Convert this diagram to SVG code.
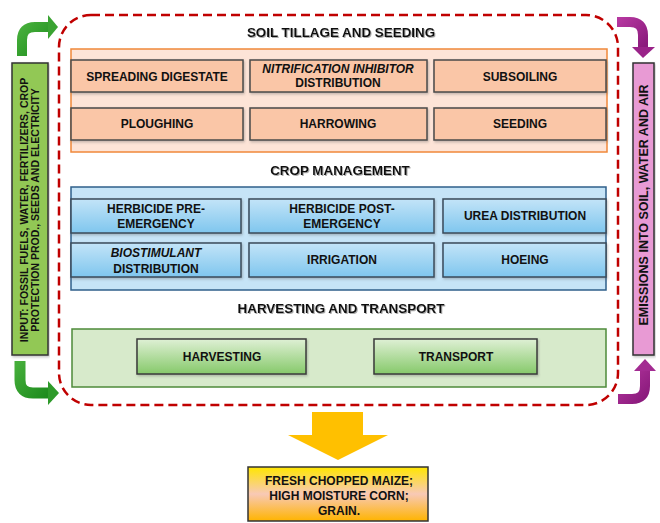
<svg xmlns="http://www.w3.org/2000/svg" width="660" height="523" viewBox="0 0 660 523">
<defs>
<linearGradient id="gBlue" x1="0" y1="0" x2="0" y2="1"><stop offset="0" stop-color="#C3E4F8"/><stop offset="1" stop-color="#7FC6EE"/></linearGradient>
<linearGradient id="gGreen" x1="0" y1="0" x2="0" y2="1"><stop offset="0" stop-color="#DFF0D5"/><stop offset="1" stop-color="#86C96A"/></linearGradient>
<linearGradient id="gOut" x1="0" y1="0" x2="0" y2="1"><stop offset="0" stop-color="#FFE600"/><stop offset="0.5" stop-color="#F8C9B6"/><stop offset="1" stop-color="#FFB400"/></linearGradient>
<linearGradient id="gArrG" x1="0" y1="0" x2="1" y2="1"><stop offset="0" stop-color="#45AE3A"/><stop offset="1" stop-color="#1E8C1E"/></linearGradient>
<linearGradient id="gArrP" x1="0" y1="0" x2="1" y2="1"><stop offset="0" stop-color="#B5379F"/><stop offset="1" stop-color="#8A1A7C"/></linearGradient>
<filter id="ts" x="-5%" y="-30%" width="110%" height="160%"><feDropShadow dx="1" dy="1" stdDeviation="0.6" flood-color="#777" flood-opacity="0.6"/></filter>
<filter id="bs" x="-5%" y="-10%" width="110%" height="130%"><feDropShadow dx="1" dy="1.5" stdDeviation="1" flood-color="#555" flood-opacity="0.35"/></filter>
</defs>
<style>
text{font-family:"Liberation Sans",Arial,sans-serif;font-weight:bold;fill:#111;text-anchor:middle}
.title{font-size:13.4px;filter:url(#ts)}
.lbl{font-size:12px}
.it{font-style:italic}
.peach{fill:#FAC6A7;stroke:#4A4A4A;stroke-width:1.5;filter:url(#bs)}
.blue{fill:url(#gBlue);stroke:#3A4A5A;stroke-width:1.5;filter:url(#bs)}
.green{fill:url(#gGreen);stroke:#3A3A3A;stroke-width:1.5;filter:url(#bs)}
</style>

<g id="boundary">
<rect x="59" y="15" width="559" height="390" rx="32" fill="none" stroke="#C00000" stroke-width="2.5" stroke-dasharray="9,5"/>
</g>

<g id="soil-tillage">
<text class="title" x="341" y="37">SOIL TILLAGE AND SEEDING</text>
<rect x="71" y="49" width="536" height="103" fill="#FDE4D7" stroke="#F0883A" stroke-width="1.5"/>
</g>
<g id="spreading-digestate"><rect class="peach" x="71" y="60" width="172" height="32"/><text class="lbl" x="157" y="81">SPREADING DIGESTATE</text></g>
<g id="nitrification"><rect class="peach" x="250" y="60" width="177" height="32"/><text class="lbl it" x="338" y="73">NITRIFICATION INHIBITOR</text><text class="lbl" x="338" y="87">DISTRIBUTION</text></g>
<g id="subsoiling"><rect class="peach" x="434" y="60" width="172" height="32"/><text class="lbl" x="520" y="81">SUBSOILING</text></g>
<g id="ploughing"><rect class="peach" x="71" y="108" width="172" height="32"/><text class="lbl" x="157" y="128">PLOUGHING</text></g>
<g id="harrowing"><rect class="peach" x="250" y="108" width="177" height="32"/><text class="lbl" x="338" y="128">HARROWING</text></g>
<g id="seeding"><rect class="peach" x="434" y="108" width="172" height="32"/><text class="lbl" x="520" y="128">SEEDING</text></g>

<g id="crop-management">
<text class="title" x="340" y="175">CROP MANAGEMENT</text>
<rect x="71" y="187" width="535" height="103" fill="#C6E4F7" stroke="#2F5F8A" stroke-width="1.5"/>
</g>
<g id="herbicide-pre"><rect class="blue" x="71" y="199" width="170" height="34"/><text class="lbl" x="156" y="213">HERBICIDE PRE-</text><text class="lbl" x="156" y="228">EMERGENCY</text></g>
<g id="herbicide-post"><rect class="blue" x="249" y="199" width="185" height="34"/><text class="lbl" x="342" y="213">HERBICIDE POST-</text><text class="lbl" x="342" y="228">EMERGENCY</text></g>
<g id="urea"><rect class="blue" x="443" y="199" width="163" height="34"/><text class="lbl" x="525" y="220">UREA DISTRIBUTION</text></g>
<g id="biostimulant"><rect class="blue" x="71" y="243" width="170" height="34"/><text class="lbl it" x="156" y="257">BIOSTIMULANT</text><text class="lbl" x="156" y="273">DISTRIBUTION</text></g>
<g id="irrigation"><rect class="blue" x="249" y="243" width="185" height="34"/><text class="lbl" x="342" y="264">IRRIGATION</text></g>
<g id="hoeing"><rect class="blue" x="443" y="243" width="163" height="34"/><text class="lbl" x="525" y="264">HOEING</text></g>

<g id="harvesting-transport">
<text class="title" x="341" y="313">HARVESTING AND TRANSPORT</text>
<rect x="72" y="329" width="534" height="58" fill="#D7EACB" stroke="#4E8A3A" stroke-width="1.5"/>
</g>
<g id="harvesting"><rect class="green" x="137" y="339" width="169" height="35"/><text class="lbl" x="222" y="361">HARVESTING</text></g>
<g id="transport"><rect class="green" x="374" y="339" width="163" height="35"/><text class="lbl" x="456" y="361">TRANSPORT</text></g>

<g id="input">
<rect x="12" y="63" width="36" height="292" fill="#92C854" stroke="#333" stroke-width="1.5" filter="url(#bs)"/>
<text transform="translate(28,210) rotate(-90)" font-size="10.5">INPUT: FOSSIL FUELS, WATER, FERTILIZERS, CROP</text>
<text transform="translate(39,210) rotate(-90)" font-size="10.5">PROTECTION PROD., SEEDS AND ELECTRICITY</text>
</g>

<g id="emissions">
<rect x="633" y="63" width="21" height="292" fill="#E89AD4" stroke="#333" stroke-width="1.5" filter="url(#bs)"/>
<text transform="translate(648,205) rotate(-90)" font-size="12.5">EMISSIONS INTO SOIL, WATER AND AIR</text>
</g>

<g id="output">
<rect x="248" y="467" width="180" height="54" fill="url(#gOut)" stroke="#333" stroke-width="1.5"/>
<text class="lbl" x="339" y="485" font-size="12.3">FRESH CHOPPED MAIZE;</text>
<text class="lbl" x="339" y="500" font-size="12.3">HIGH MOISTURE CORN;</text>
<text class="lbl" x="339" y="515" font-size="12.3">GRAIN.</text>
</g>

<g id="connectors">
<path d="M22,56 V40 Q22,27 35,27 H49" fill="none" stroke="url(#gArrG)" stroke-width="10"/>
<polygon points="48,15 58,27 48,39" fill="#3AA332"/>
<path d="M20,361 V380 Q20,393 33,393 H49" fill="none" stroke="url(#gArrG)" stroke-width="11"/>
<polygon points="48,381 59,393 48,405" fill="#2E9A2A"/>
<path d="M617,22 H630 Q643,22 643,35 V48" fill="none" stroke="url(#gArrP)" stroke-width="10"/>
<polygon points="632,47 655,47 643,58" fill="#9A2389"/>
<path d="M618,399 H632 Q645,399 645,386 V370" fill="none" stroke="url(#gArrP)" stroke-width="10"/>
<polygon points="634,371 656,371 645,359" fill="#A32B92"/>
<polygon points="312,412 363,412 363,435 388,435 338,460 288,435 312,435" fill="#FFC000"/>
</g>
</svg>
